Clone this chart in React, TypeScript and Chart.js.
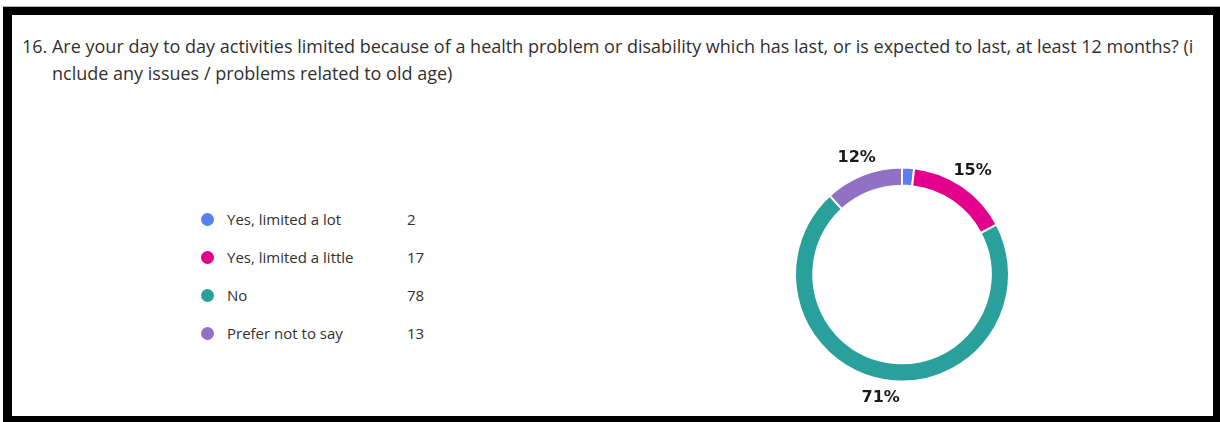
import React, { useEffect, useRef } from "react";
import { Chart, registerables } from "chart.js";

Chart.register(...registerables);

const titleLines = [
  "16. Are your day to day activities limited because of a health problem or disability which has last, or is expected to last, at least 12 months? (i",
  "nclude any issues / problems related to old age)",
];
const categories = ["Yes, limited a lot", "Yes, limited a little", "No", "Prefer not to say"];
const counts = [2, 17, 78, 13];
const colors = ["#5b7ff0", "#e3008c", "#29a09b", "#9071c4"];

const TEXT = "#323130";
const FONT = "'Segoe UI', 'Open Sans', 'Noto Sans', sans-serif";

const outsideLabels = {
  id: "outsideLabels",
  afterDatasetsDraw(chart: any) {
    const ctx = chart.ctx;
    const meta = chart.getDatasetMeta(0);
    const data = chart.data.datasets[0].data as number[];
    const total = data.reduce((a, b) => a + b, 0);
    ctx.save();
    ctx.font = "bold 16px 'DejaVu Sans', Verdana, sans-serif";
    ctx.fillStyle = "#1b1a19";
    ctx.textAlign = "center";
    ctx.textBaseline = "middle";
    meta.data.forEach((arc: any, i: number) => {
      const pct = (data[i] / total) * 100;
      if (pct < 5) return;
      const p = arc.getProps(["x", "y", "startAngle", "endAngle", "outerRadius"], true);
      const mid = (p.startAngle + p.endAngle) / 2;
      const r = p.outerRadius + 18;
      ctx.fillText(Math.round(pct) + "%", p.x + Math.cos(mid) * r, p.y + Math.sin(mid) * r);
    });
    ctx.restore();
  },
};

export default function App() {
  const canvasRef = useRef<HTMLCanvasElement | null>(null);

  useEffect(() => {
    if (!canvasRef.current) return;
    const chart = new Chart(canvasRef.current, {
      type: "doughnut",
      data: {
        labels: categories,
        datasets: [
          {
            data: counts,
            backgroundColor: colors,
            borderColor: "#ffffff",
            borderWidth: 2,
            hoverBorderWidth: 2,
          },
        ],
      },
      options: {
        animation: false,
        responsive: true,
        maintainAspectRatio: false,
        cutout: "83%",
        layout: { padding: 22 },
        plugins: {
          legend: { display: false },
          tooltip: { enabled: false },
        },
      },
      plugins: [outsideLabels],
    });
    return () => chart.destroy();
  }, []);

  return (
    <div
      style={{
        position: "fixed",
        left: 0,
        top: 0,
        width: 1220,
        height: 422,
        background: "#ffffff",
        overflow: "hidden",
        fontFamily: FONT,
        color: TEXT,
      }}
    >
      <div
        style={{
          position: "absolute",
          left: 3,
          top: 6,
          width: 1217,
          height: 1,
          background: "#b0b0b0",
        }}
      />
      <div
        style={{
          position: "absolute",
          left: 3,
          top: 7,
          width: 1217,
          height: 415,
          boxSizing: "border-box",
          borderLeft: "9px solid #000",
          borderTop: "8px solid #000",
          borderRight: "7px solid #000",
          borderBottom: "6px solid #000",
        }}
      />
      <div
        style={{
          position: "absolute",
          left: 22,
          top: 33,
          fontSize: 18,
          lineHeight: "27px",
          whiteSpace: "nowrap",
        }}
      >
        <div>{titleLines[0]}</div>
        <div style={{ paddingLeft: 30 }}>{titleLines[1]}</div>
      </div>
      <div style={{ position: "absolute", left: 201, top: 200, fontSize: 15 }}>
        {categories.map((c, i) => (
          <div
            key={c}
            style={{ position: "absolute", top: i * 38, left: 0, height: 38, width: 260, display: "flex", alignItems: "center" }}
          >
            <span
              style={{
                width: 13,
                height: 13,
                borderRadius: "50%",
                background: colors[i],
                display: "inline-block",
              }}
            />
            <span style={{ position: "absolute", left: 26, whiteSpace: "nowrap" }}>{c}</span>
            <span style={{ position: "absolute", left: 206 }}>{counts[i]}</span>
          </div>
        ))}
      </div>
      <div style={{ position: "absolute", left: 772, top: 144, width: 260, height: 261 }}>
        <canvas ref={canvasRef} />
      </div>
    </div>
  );
}
